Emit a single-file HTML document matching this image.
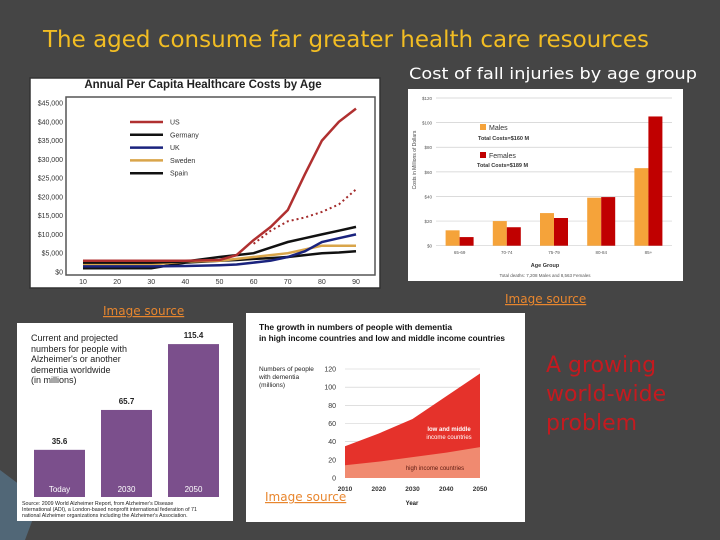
<!DOCTYPE html>
<html><head><meta charset="utf-8"><style>
html,body{margin:0;padding:0;background:#454545;}
svg{display:block;font-family:"DejaVu Sans","Liberation Sans",sans-serif;}
.a{font-family:"Liberation Sans",sans-serif;}
</style></head><body>
<svg id="s" width="720" height="540" viewBox="0 0 720 540">
<rect width="720" height="540" fill="#454545"/>
<polygon points="0,470 40,500 25,540 0,540" fill="#5a7f99" opacity="0.6"/>
<text x="43" y="47" font-size="23" fill="#f2bd23" textLength="606" lengthAdjust="spacingAndGlyphs">The aged consume far greater health care resources</text>
<text x="409" y="79" font-size="16" fill="#ffffff" textLength="288" lengthAdjust="spacingAndGlyphs">Cost of fall injuries by age group</text>

<!-- chart 1 -->
<g id="c1">
<rect x="30" y="78" width="350" height="210" fill="#ffffff" stroke="#333" stroke-width="1.5"/>
<rect x="66" y="97" width="309" height="178" fill="none" stroke="#555" stroke-width="1.5"/>
<text class="a" x="203" y="88" font-size="11.5" font-weight="bold" text-anchor="middle" fill="#222">Annual Per Capita Healthcare Costs by Age</text>
</g>
<!-- chart 2 -->
<g id="c2">
<rect x="408" y="89" width="275" height="192" fill="#ffffff"/>
<text class="a" transform="translate(416,160) rotate(-90)" font-size="5" text-anchor="middle" fill="#444">Costs in Millions of Dollars</text>
<rect x="480" y="124" width="6" height="6" fill="#f5a33a"/><text class="a" x="489" y="130" font-size="7" fill="#333">Males</text>
<text class="a" x="478" y="140" font-size="5.5" font-weight="bold" fill="#333">Total Costs=$160 M</text>
<rect x="480" y="152" width="6" height="6" fill="#c00000"/><text class="a" x="489" y="158" font-size="7" fill="#333">Females</text>
<text class="a" x="477" y="167" font-size="5.5" font-weight="bold" fill="#333">Total Costs=$189 M</text>
<text class="a" x="545" y="267" font-size="5.5" font-weight="bold" text-anchor="middle" fill="#333">Age Group</text>
<text class="a" x="545" y="277" font-size="4.5" text-anchor="middle" fill="#555">Total deaths: 7,208 Males and 8,563 Females</text>
</g>
<!-- chart 3 -->
<g id="c3">
<rect x="17" y="323" width="216" height="198" fill="#ffffff"/>
<text class="a" font-size="9" fill="#222"><tspan x="31" y="341">Current and projected</tspan><tspan x="31" y="352">numbers for people with</tspan><tspan x="31" y="362">Alzheimer's or another</tspan><tspan x="31" y="373">dementia worldwide</tspan><tspan x="31" y="383">(in millions)</tspan></text>
<text class="a" font-size="5.3" fill="#222"><tspan x="22" y="505">Source: 2009 World Alzheimer Report, from Alzheimer's Disease</tspan><tspan x="22" y="511">International (ADI), a London-based nonprofit international federation of 71</tspan><tspan x="22" y="517">national Alzheimer organizations including the Alzheimer's Association.</tspan></text>
</g>
<!-- chart 4 -->
<g id="c4">
<rect x="246" y="313" width="279" height="209" fill="#ffffff"/>
<text class="a" font-size="8.5" font-weight="bold" fill="#111"><tspan x="259" y="330">The growth in numbers of people with dementia</tspan><tspan x="259" y="341" textLength="246" lengthAdjust="spacingAndGlyphs">in high income countries and low and middle income countries</tspan></text>
<text class="a" font-size="6.5" fill="#222"><tspan x="259" y="371">Numbers of people</tspan><tspan x="259" y="379">with dementia</tspan><tspan x="259" y="387">(millions)</tspan></text>
<text class="a" x="412" y="505" font-size="6" font-weight="bold" text-anchor="middle" fill="#222">Year</text>
</g>

<text x="103" y="315" font-size="12" fill="#e8862e" text-decoration="underline">Image source</text>
<text x="505" y="303" font-size="12" fill="#e8862e" text-decoration="underline">Image source</text>
<text x="265" y="501" font-size="12" fill="#e8862e" text-decoration="underline">Image source</text>
<text font-size="22" fill="#c41a1f"><tspan x="546" y="372">A growing</tspan><tspan x="546" y="401">world-wide</tspan><tspan x="546" y="430">problem</tspan></text>
</svg>
<script>
// Chart 1 data
const ages = [10,20,30,40,50,55,60,65,70,75,80,85,90];
const usCost = [3000,3000,3000,3000,3200,4500,8500,12000,16500,26000,35000,40000,43500];
const usDotted = [null,null,null,null,null,null,7500,11000,13500,14500,16000,18000,22000];
const germanyCost = [2500,2500,2500,2800,4000,4500,5000,6500,8000,9000,10000,11000,12000];
const ukCost = [1500,1500,1500,1600,1800,2000,2500,3000,4000,5500,8000,9000,10000];
const swedenCost = [2000,2000,2000,2800,3000,3500,4000,4500,5000,6000,7000,7000,7000];
const spainCost = [1000,1000,1000,2500,3000,3200,3500,3700,4000,4500,5000,5200,5500];
const c1Ticks = [0,5000,10000,15000,20000,25000,30000,35000,40000,45000];
const c1XTicks = [10,20,30,40,50,60,70,80,90];
// Chart 2 data
const ageGroups = ["65-69","70-74","75-79","80-84","85+"];
const maleCost = [12.5,20,26.5,39,63];
const femaleCost = [7,15,22.5,39.5,105];
const c2Ticks = [0,20,40,60,80,100,120];
// Chart 3 data
const alzLabels = ["Today","2030","2050"];
const alzValues = [35.6,65.7,115.4];
// Chart 4 data
const years = [2010,2020,2030,2040,2050];
const highIncome = [14,18,23,28,34];
const totalDementia = [35,49,65,90,115];
const c4Ticks = [0,20,40,60,80,100,120];

const NS="http://www.w3.org/2000/svg";
function mk(tag,attrs,parent,txt){const e=document.createElementNS(NS,tag);for(const k in attrs)e.setAttribute(k,attrs[k]);if(txt!==undefined)e.textContent=txt;parent.appendChild(e);return e;}
function fmt(v){return "$"+(v===0?"0":v.toLocaleString("en-US"));}

// chart 1
const g1=document.getElementById("c1");
const x1=a=>83+(a-10)*(356-83)/80, y1=v=>272-v*(272-103)/45000;
c1Ticks.forEach(t=>{const e=mk("text",{x:63,y:y1(t)+2.5,"font-size":7,"text-anchor":"end",fill:"#333",class:"a"},g1,fmt(t));

});
c1XTicks.forEach(t=>{const e=mk("text",{x:x1(t),y:284,"font-size":7,"text-anchor":"middle",fill:"#333",class:"a"},g1,t);

});
function line(vals,color,w,dash,name){let d="";vals.forEach((v,i)=>{if(v===null)return;d+=(d?"L":"M")+x1(ages[i]).toFixed(1)+","+y1(v).toFixed(1);});
const p=mk("path",{d:d,fill:"none",stroke:color,"stroke-width":w,"stroke-dasharray":dash||"none"},g1);

}
line(spainCost,"#111",2.5,null,"line-spain");
line(swedenCost,"#d9a54a",2.5,null,"line-sweden");
line(ukCost,"#1a237e",2.5,null,"line-uk");
line(germanyCost,"#111",2.5,null,"line-germany");
line(usDotted,"#a32a2a",2,"2,3","line-us-dotted");
line(usCost,"#b03030",2.5,null,"line-us");
const leg=[["US","#b03030"],["Germany","#111"],["UK","#1a237e"],["Sweden","#d9a54a"],["Spain","#111"]];
leg.forEach((l,i)=>{const y=122+i*12.8;
const ln=mk("line",{x1:130,x2:163,y1:y,y2:y,stroke:l[1],"stroke-width":2.5},g1);


const t=mk("text",{x:170,y:y+2.5,"font-size":7,fill:"#333",class:"a"},g1,l[0]);

});

// chart 2
const g2=document.getElementById("c2");
const y2=v=>245.7-v*(245.7-98)/120, gw=(672-436)/5;
c2Ticks.forEach(t=>{const l=mk("line",{x1:436,x2:672,y1:y2(t),y2:y2(t),stroke:"#cfcfcf","stroke-width":0.7},g2);


const e=mk("text",{x:432,y:y2(t)+2,"font-size":4.5,"text-anchor":"end",fill:"#555",class:"a"},g2,"$"+t);

});
ageGroups.forEach((g,i)=>{const cx=436+gw*(i+0.5);
const m=mk("rect",{x:cx-14,y:y2(maleCost[i]),width:14,height:245.7-y2(maleCost[i]),fill:"#f5a33a"},g2);


const f=mk("rect",{x:cx,y:y2(femaleCost[i]),width:14,height:245.7-y2(femaleCost[i]),fill:"#c00000"},g2);


const t=mk("text",{x:cx,y:254,"font-size":4.5,"text-anchor":"middle",fill:"#555",class:"a"},g2,g);

});

// chart 3
const g3=document.getElementById("c3");
const y3=v=>497-v*1.325;
const bx=[34,101,168];
alzLabels.forEach((l,i)=>{const b=mk("rect",{x:bx[i],y:y3(alzValues[i]),width:51,height:497-y3(alzValues[i]),fill:"#7b4f8c"},g3);


const v=mk("text",{x:bx[i]+25.5,y:y3(alzValues[i])-6,"font-size":8,"font-weight":"bold","text-anchor":"middle",fill:"#222",class:"a"},g3,alzValues[i]);


const t=mk("text",{x:bx[i]+25.5,y:492,"font-size":8,"text-anchor":"middle",fill:"#fff",class:"a"},g3,l);

});

// chart 4
const g4=document.getElementById("c4");
const x4=yr=>345+(yr-2010)*(480-345)/40, y4=v=>478-v*(478-369)/120;
c4Ticks.forEach(t=>{if(t>0){const l=mk("line",{x1:345,x2:480,y1:y4(t),y2:y4(t),stroke:"#ccc","stroke-width":0.6},g4);

}
const e=mk("text",{x:336,y:y4(t)+2.5,"font-size":7,"text-anchor":"end",fill:"#333",class:"a"},g4,t);

});
let dt="M"+x4(years[0])+","+y4(0);years.forEach((yr,i)=>dt+="L"+x4(yr)+","+y4(totalDementia[i]));dt+="L"+x4(years[years.length-1])+","+y4(0)+"Z";
const aT=mk("path",{d:dt,fill:"#e5322b"},g4);


let dh="M"+x4(years[0])+","+y4(0);years.forEach((yr,i)=>dh+="L"+x4(yr)+","+y4(highIncome[i]));dh+="L"+x4(years[years.length-1])+","+y4(0)+"Z";
const aH=mk("path",{d:dh,fill:"#f08a70"},g4);


years.forEach(yr=>{const e=mk("text",{x:x4(yr),y:491,"font-size":6.5,"font-weight":"bold","text-anchor":"middle",fill:"#333",class:"a"},g4,yr);

});
const l1=mk("text",{x:449,y:431,"font-size":6,"font-weight":"bold","text-anchor":"middle",fill:"#fff",class:"a"},g4,"low and middle");


const l2=mk("text",{x:449,y:439,"font-size":6,"text-anchor":"middle",fill:"#fff",class:"a"},g4,"income countries");


const l3=mk("text",{x:435,y:470,"font-size":6,"text-anchor":"middle",fill:"#5a1a10",class:"a"},g4,"high income countries");


</script>
</body></html>
